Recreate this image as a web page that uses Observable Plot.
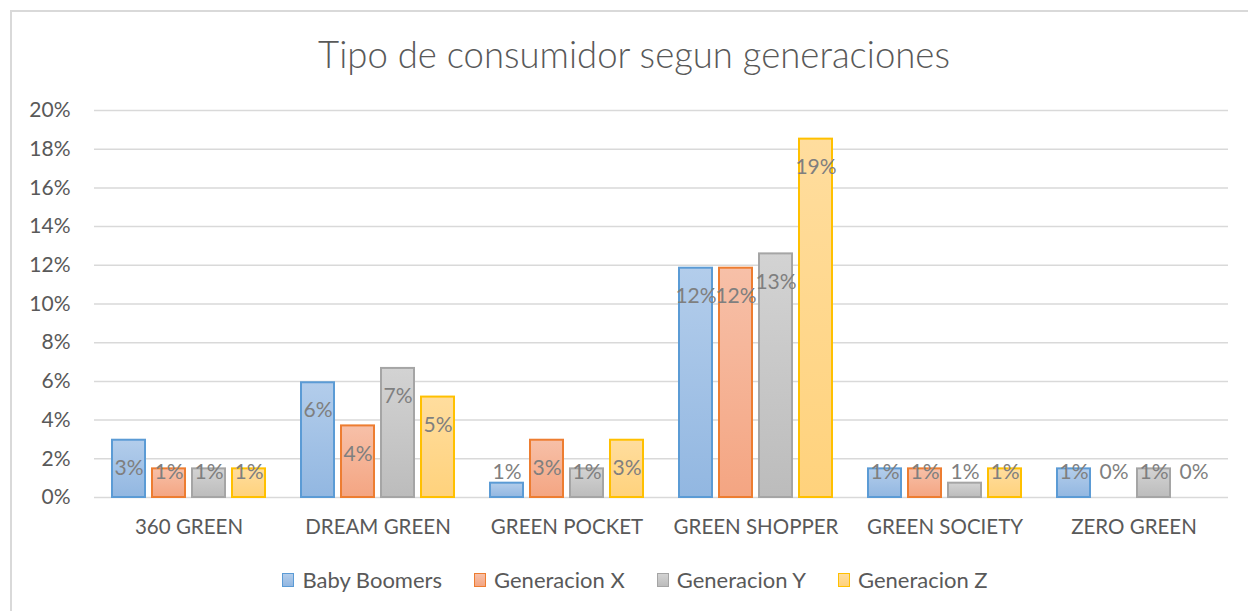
<!DOCTYPE html>
<html><head><meta charset="utf-8">
<script src="https://cdn.jsdelivr.net/npm/d3@7"></script>
<script src="https://cdn.jsdelivr.net/npm/@observablehq/plot@0.6"></script>
<style>
html,body{margin:0;padding:0;background:#fff;}
#wrap{position:relative;width:1248px;height:611px;overflow:hidden;font-family:Lato,"Open Sans",sans-serif;}
#frame{position:absolute;left:10px;top:10px;width:1300px;height:700px;border-top:2px solid #d9d9d9;border-left:2px solid #d9d9d9;}
#chart{position:absolute;left:0;top:0;}
#title{position:absolute;left:0;width:1268px;top:34px;line-height:40px;text-align:center;font-size:36.5px;color:#595959;font-weight:300;}
#legend{position:absolute;left:0;width:1270px;top:567px;line-height:26px;display:flex;justify-content:center;font-size:22px;color:#595959;}
.item{display:flex;align-items:center;margin:0 16px;}
.sw{display:inline-block;width:10px;height:12px;margin-right:8px;box-sizing:content-box;}
</style>
</head><body>
<div id="wrap">
  <div id="frame"></div>
  <div id="chart"></div>
  <div id="title">Tipo de consumidor segun generaciones</div>
  <div id="legend"></div>
</div>
<script>
const categories = ["360 GREEN", "DREAM GREEN", "GREEN POCKET", "GREEN SHOPPER", "GREEN SOCIETY", "ZERO GREEN"];
const series = ["Baby Boomers", "Generacion X", "Generacion Y", "Generacion Z"];
const babyBoomers = [0.0296, 0.0593, 0.0074, 0.1185, 0.0148, 0.0148];
const generacionX = [0.0148, 0.0370, 0.0296, 0.1185, 0.0148, 0.0000];
const generacionY = [0.0148, 0.0667, 0.0148, 0.1259, 0.0074, 0.0148];
const generacionZ = [0.0148, 0.0519, 0.0296, 0.1852, 0.0148, 0.0000];
const yTicks = [0, 0.02, 0.04, 0.06, 0.08, 0.10, 0.12, 0.14, 0.16, 0.18, 0.20];

const borderColors = ["#5b9bd5", "#ed7d31", "#a5a5a5", "#ffc000"];
const gradTop = ["#b3cdeb", "#f7c0a8", "#d3d3d3", "#ffdd9e"];
const gradBottom = ["#92b7e1", "#f4a582", "#bcbcbc", "#ffd27c"];

const valuesBySeries = [babyBoomers, generacionX, generacionY, generacionZ];
const data = [];
series.forEach((s, i) => categories.forEach((c, j) => data.push({category: c, series: s, value: valuesBySeries[i][j]})));

const fmt = d3.format(".0%");
const labelFloor = 0.0276;

const svg = Plot.plot({
  width: 1248,
  height: 611,
  marginLeft: 92,
  marginRight: 18,
  marginTop: 110,
  marginBottom: 114,
  style: {fontFamily: "Lato, 'Open Sans', sans-serif", background: "transparent"},
  fx: {domain: categories, padding: 0, label: null},
  x: {domain: series, paddingInner: 0.1707, paddingOuter: 0.398, axis: null},
  y: {domain: [0, 0.2], axis: null},
  marks: [
    Plot.gridY(yTicks, {stroke: "#d9d9d9", strokeOpacity: 1, strokeWidth: 1.5}),
    Plot.axisY(yTicks, {tickSize: 0, tickPadding: 24, tickFormat: fmt, fontSize: 21, fill: "#595959", label: null}),
    Plot.axisFx({anchor: "bottom", tickSize: 0, tickPadding: 22, fontSize: 20.5, fill: "#595959", label: null}),
    ...series.map((s, i) => Plot.barY(data.filter(d => d.series === s && d.value > 0), {
      fx: "category", x: "series", y: "value",
      fill: `url(#g${i})`, stroke: borderColors[i], strokeWidth: 2
    })),
    Plot.text(data, {
      fx: "category", x: "series",
      y: d => Math.max(d.value, labelFloor),
      dy: 28, text: d => fmt(d.value), fill: "#7f7f7f", fontSize: 21
    })
  ]
});

const defs = d3.select(svg).insert("defs", ":first-child");
series.forEach((s, i) => {
  const g = defs.append("linearGradient").attr("id", "g" + i)
    .attr("x1", 0).attr("y1", 0).attr("x2", 0).attr("y2", 1);
  g.append("stop").attr("offset", "0%").attr("stop-color", gradTop[i]);
  g.append("stop").attr("offset", "100%").attr("stop-color", gradBottom[i]);
});
document.getElementById("chart").appendChild(svg);

const legend = document.getElementById("legend");
series.forEach((s, i) => {
  const item = document.createElement("div");
  item.className = "item";
  const sw = document.createElement("span");
  sw.className = "sw";
  sw.style.border = `1.5px solid ${borderColors[i]}`;
  sw.style.background = `linear-gradient(${gradTop[i]}, ${gradBottom[i]})`;
  const t = document.createElement("span");
  t.textContent = s;
  item.appendChild(sw);
  item.appendChild(t);
  legend.appendChild(item);
});
</script>
</body></html>
